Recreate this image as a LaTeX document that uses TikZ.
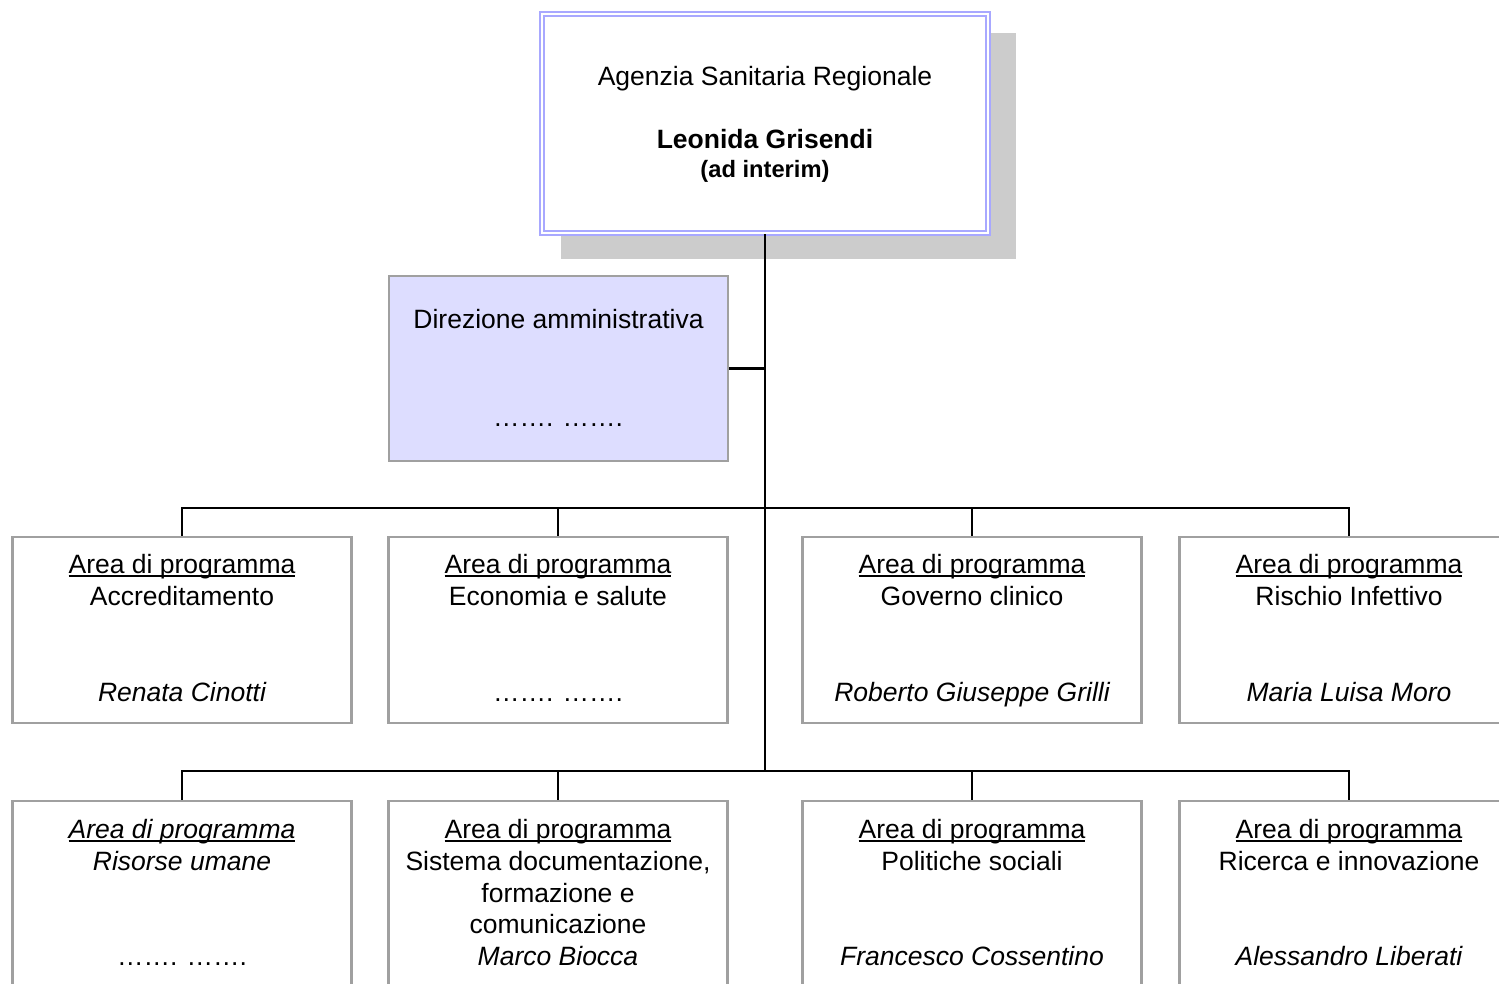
\documentclass[tikz,border=0pt]{standalone}
\usepackage{fontspec}
\setmainfont{Liberation Sans}
\definecolor{boxgray}{HTML}{A0A0A0}
\definecolor{lav}{HTML}{A8A8FF}
\definecolor{lavfill}{HTML}{DDDDFF}
\definecolor{shadowgray}{HTML}{CCCCCC}
\newcommand\myul[1]{\setbox0\hbox{#1}\rlap{\rule[-3.6pt]{\wd0}{1.8pt}}\box0}
\begin{document}
\begin{tikzpicture}[x=1pt,y=-1pt,
  areabox/.style={draw=boxgray, line width=2.5pt, fill=white, rectangle, inner sep=0pt, minimum width=339pt, minimum height=186pt},
  conn/.style={draw=black, line width=2.5pt},
  txt/.style={anchor=base, inner sep=0pt, font=\fontsize{26.5}{31}\selectfont},
  btxt/.style={anchor=base, inner sep=0pt, font=\fontsize{26.5}{31}\selectfont\bfseries},
  sbtxt/.style={anchor=base, inner sep=0pt, font=\fontsize{23.7}{28}\selectfont\bfseries},
  itxt/.style={anchor=base, inner sep=0pt, font=\fontsize{26.5}{31}\selectfont\itshape}]
\useasboundingbox (0,0) rectangle (1499,983);
\clip (0,0) rectangle (1499,983);
% shadow and top box
\path[fill=shadowgray] (561,33) rectangle (1016,259);
\node[draw=lav, double=white, double distance=1.6pt, line width=2.4pt, fill=white, rectangle, inner sep=0pt, minimum width=446pt, minimum height=219pt] (top) at (765,123.5) {};
\node[txt] (t1) at (765,85) {Agenzia Sanitaria Regionale};
\node[btxt] (t2) at (765,148) {Leonida Grisendi};
\node[sbtxt] (t3) at (765,177.5) {(ad interim)};
% direzione
\node[areabox, fill=lavfill, minimum height=185pt] (dir) at (558.5,368.5) {};
\node[txt] (d1) at (558.5,328) {Direzione amministrativa};
\node[txt] (d2) at (558,426) {…….\hspace{0.35em}…….};
% junctions
\coordinate (j1) at (765,508);
\coordinate (j2) at (765,771);
% row 1 boxes
\node[areabox] (b1) at (182,630) {};
\node[areabox] (b2) at (558,630) {};
\node[areabox] (b3) at (972,630) {};
\node[areabox] (b4) at (1349,630) {};
% row 2 boxes
\node[areabox] (c1) at (182,894) {};
\node[areabox] (c2) at (558,894) {};
\node[areabox] (c3) at (972,894) {};
\node[areabox] (c4) at (1349,894) {};
% connectors
\draw[conn] (top.south) -- (j2);
\draw[conn] (dir.east) -- (dir.east -| top.south);
\draw[conn] (b1.north) -- (b1.north |- j1) -- (b4.north |- j1) -- (b4.north);
\draw[conn] (b2.north) -- (b2.north |- j1);
\draw[conn] (b3.north) -- (b3.north |- j1);
\draw[conn] (c1.north) -- (c1.north |- j2) -- (c4.north |- j2) -- (c4.north);
\draw[conn] (c2.north) -- (c2.north |- j2);
\draw[conn] (c3.north) -- (c3.north |- j2);
% row 1 texts
\node[txt] (b1a) at (182,573) {\myul{Area di programma}};
\node[txt] (b1b) at (182,605) {Accreditamento};
\node[itxt] (b1c) at (182,701) {Renata Cinotti};
\node[txt] (b2a) at (558,573) {\myul{Area di programma}};
\node[txt] (b2b) at (558,605) {Economia e salute};
\node[txt] (b2c) at (558,701) {…….\hspace{0.35em}…….};
\node[txt] (b3a) at (972,573) {\myul{Area di programma}};
\node[txt] (b3b) at (972,605) {Governo clinico};
\node[itxt] (b3c) at (972,701) {Roberto Giuseppe Grilli};
\node[txt] (b4a) at (1349,573) {\myul{Area di programma}};
\node[txt] (b4b) at (1349,605) {Rischio Infettivo};
\node[itxt] (b4c) at (1349,701) {Maria Luisa Moro};
% row 2 texts
\node[itxt] (c1a) at (182,838) {\myul{Area di programma}};
\node[itxt] (c1b) at (182,870) {Risorse umane};
\node[txt] (c1c) at (182,965) {…….\hspace{0.35em}…….};
\node[txt] (c2a) at (558,838) {\myul{Area di programma}};
\node[txt] (c2b) at (558,870) {Sistema documentazione,};
\node[txt] (c2c) at (558,902) {formazione e};
\node[txt] (c2d) at (558,933) {comunicazione};
\node[itxt] (c2e) at (558,965) {Marco Biocca};
\node[txt] (c3a) at (972,838) {\myul{Area di programma}};
\node[txt] (c3b) at (972,870) {Politiche sociali};
\node[itxt] (c3c) at (972,965) {Francesco Cossentino};
\node[txt] (c4a) at (1349,838) {\myul{Area di programma}};
\node[txt] (c4b) at (1349,870) {Ricerca e innovazione};
\node[itxt] (c4c) at (1349,965) {Alessandro Liberati};
\end{tikzpicture}
\end{document}
